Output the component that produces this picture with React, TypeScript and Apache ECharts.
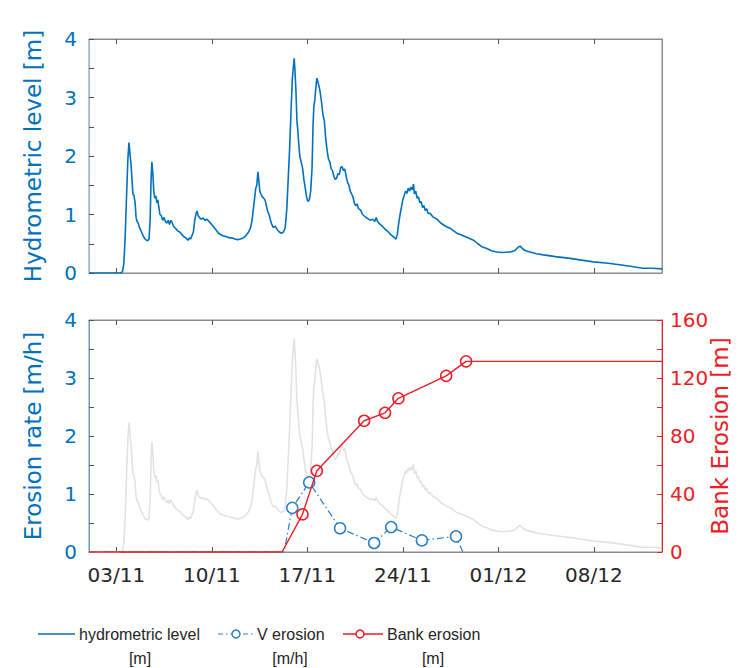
import React, { useEffect, useRef } from "react";
import * as echarts from "echarts";

// x values are days since 01/11 00:00
const xTickDays = [2, 9, 16, 23, 30, 37];
const xTickLabels = ["03/11", "10/11", "17/11", "24/11", "01/12", "08/12"];

const hydroLevel: [number, number][] = [
  [0, 0], [2.3, 0], [2.45, 0.02], [2.55, 0.15], [2.65, 0.6], [2.75, 1.3], [2.85, 1.95], [2.93, 2.23],
  [3.0, 2.05], [3.08, 1.85], [3.15, 1.6], [3.22, 1.35], [3.3, 1.32], [3.38, 1.2], [3.45, 0.95], [3.52, 0.88],
  [3.6, 0.86], [3.7, 0.78], [3.85, 0.7], [4.0, 0.62], [4.15, 0.57], [4.3, 0.55], [4.4, 0.58], [4.48, 0.9],
  [4.55, 1.6], [4.61, 1.9], [4.68, 1.7], [4.75, 1.4], [4.82, 1.28], [4.9, 1.32], [4.98, 1.2], [5.05, 1.25],
  [5.12, 1.12], [5.2, 1.0], [5.3, 0.98], [5.4, 0.9], [5.5, 0.95], [5.6, 0.88], [5.7, 0.85], [5.8, 0.9],
  [5.9, 0.83], [6.0, 0.9], [6.1, 0.86], [6.2, 0.8], [6.35, 0.76], [6.5, 0.72], [6.65, 0.7], [6.8, 0.66],
  [6.95, 0.62], [7.1, 0.6], [7.25, 0.56], [7.35, 0.6], [7.45, 0.58], [7.55, 0.64], [7.65, 0.7], [7.75, 0.9],
  [7.85, 1.02], [7.92, 1.06], [8.0, 0.98], [8.1, 0.95], [8.2, 0.92], [8.35, 0.94], [8.5, 0.9], [8.65, 0.92],
  [8.8, 0.88], [8.95, 0.84], [9.1, 0.8], [9.3, 0.74], [9.5, 0.68], [9.7, 0.65], [9.9, 0.63], [10.1, 0.62],
  [10.3, 0.6], [10.5, 0.6], [10.7, 0.58], [10.9, 0.57], [11.1, 0.58], [11.3, 0.6], [11.5, 0.64], [11.7, 0.7],
  [11.85, 0.78], [11.95, 0.9], [12.05, 1.1], [12.15, 1.3], [12.22, 1.45], [12.3, 1.5], [12.38, 1.73], [12.45, 1.58],
  [12.52, 1.4], [12.6, 1.35], [12.7, 1.3], [12.8, 1.28], [12.9, 1.25], [13.0, 1.15], [13.1, 1.05], [13.2, 1.0],
  [13.3, 0.9], [13.4, 0.83], [13.5, 0.78], [13.65, 0.8], [13.8, 0.74], [13.95, 0.7], [14.1, 0.68], [14.25, 0.7],
  [14.38, 0.77], [14.5, 1.1], [14.6, 1.6], [14.7, 2.1], [14.8, 2.7], [14.9, 3.3], [14.97, 3.5], [15.04, 3.67],
  [15.1, 3.45], [15.17, 3.1], [15.24, 2.6], [15.3, 2.45], [15.38, 2.2], [15.45, 2.0], [15.55, 1.9], [15.65, 1.8],
  [15.75, 1.6], [15.85, 1.45], [15.95, 1.3], [16.05, 1.22], [16.15, 1.25], [16.25, 1.4], [16.35, 1.8], [16.42, 2.5],
  [16.48, 2.85], [16.55, 2.95], [16.6, 3.1], [16.7, 3.33], [16.8, 3.25], [16.9, 3.15], [17.0, 3.0], [17.08, 2.85],
  [17.15, 2.7], [17.25, 2.6], [17.35, 2.3], [17.45, 2.1], [17.55, 1.95], [17.65, 1.9], [17.75, 1.78], [17.85, 1.75],
  [17.95, 1.65], [18.05, 1.6], [18.15, 1.62], [18.25, 1.7], [18.35, 1.68], [18.45, 1.8], [18.55, 1.82], [18.65, 1.75],
  [18.75, 1.78], [18.85, 1.65], [18.95, 1.55], [19.05, 1.5], [19.15, 1.4], [19.25, 1.35], [19.35, 1.3], [19.45, 1.2],
  [19.55, 1.15], [19.65, 1.18], [19.75, 1.1], [19.9, 1.08], [20.05, 1.0], [20.2, 0.97], [20.35, 0.94], [20.5, 0.92],
  [20.65, 0.9], [20.8, 0.92], [20.95, 0.88], [21.05, 0.95], [21.15, 0.88], [21.3, 0.84], [21.5, 0.8], [21.7, 0.75],
  [21.9, 0.71], [22.1, 0.66], [22.3, 0.62], [22.5, 0.58], [22.6, 0.66], [22.7, 0.85], [22.8, 1.0], [22.9, 1.12],
  [23.0, 1.25], [23.1, 1.32], [23.2, 1.4], [23.3, 1.36], [23.4, 1.45], [23.5, 1.4], [23.6, 1.47], [23.7, 1.42],
  [23.78, 1.52], [23.85, 1.35], [23.95, 1.4], [24.05, 1.28], [24.15, 1.3], [24.25, 1.2], [24.35, 1.22], [24.45, 1.12],
  [24.55, 1.15], [24.65, 1.07], [24.75, 1.1], [24.85, 1.02], [25.0, 1.02], [25.2, 0.96], [25.5, 0.92], [25.8, 0.85],
  [26.2, 0.79], [26.5, 0.76], [26.96, 0.68], [27.3, 0.65], [27.6, 0.62], [27.9, 0.59], [28.18, 0.56], [28.5, 0.5],
  [28.8, 0.45], [29.16, 0.42], [29.5, 0.38], [29.9, 0.36], [30.3, 0.35], [30.87, 0.36], [31.2, 0.38], [31.45, 0.44],
  [31.6, 0.46], [31.8, 0.41], [32.0, 0.38], [32.33, 0.36], [32.8, 0.33], [33.3, 0.31], [34.2, 0.28], [35.26, 0.25],
  [36.1, 0.22], [36.97, 0.19], [37.9, 0.17], [38.9, 0.14], [39.8, 0.11], [40.6, 0.08], [41.3, 0.08], [42, 0.07],
];

// V erosion [m/h]: line path and measured points
const vErosionLine: [number, number][] = [[0, 0], [14.3, 0], [14.9, 0.76], [16.14, 1.2], [18.4, 0.41], [20.9, 0.155], [22.15, 0.43], [24.4, 0.2], [26.9, 0.27], [27.4, 0]];
const vErosionMarked = [false, false, true, true, true, true, true, true, true, false];

// Bank erosion [m]
const bankLine: [number, number][] = [[0, 0], [14.15, 0], [15.65, 26], [16.7, 56], [20.17, 90.5], [21.7, 96], [22.68, 106], [26.18, 121.5], [27.64, 131.5], [42, 131.5]];
const bankMarked = [false, false, true, true, true, true, true, true, true, false];

const BLUE = "#0072BD";
const VBLUE = "#2a7fc4";
const RED = "#EE1C25";
const GRAY_AX = "#8c8c8c";
const TICK = "#555555";
const FONT = "DejaVu Sans";
const LFONT = "Liberation Sans";

export default function App() {
  const ref = useRef<HTMLDivElement>(null);
  useEffect(() => {
    if (!ref.current) return;
    const chart = echarts.init(ref.current, null, { renderer: "svg" });

    const xBase = (grid: number, pos: "top" | "bottom", labels: boolean) => ({
      type: "value",
      gridIndex: grid,
      position: pos,
      min: 0,
      max: 42,
      axisLine: { show: true, onZero: false, lineStyle: { color: GRAY_AX, width: 1 } },
      axisTick: { show: true, inside: true, length: 5, customValues: xTickDays, lineStyle: { color: TICK } },
      axisLabel: labels
        ? {
            show: true,
            customValues: xTickDays,
            formatter: (v: number) => {
              const i = xTickDays.findIndex((d) => Math.abs(d - v) < 1e-6);
              return i >= 0 ? xTickLabels[i] : "";
            },
            fontSize: 20,
            fontFamily: FONT,
            color: "#262626",
            margin: 13,
          }
        : { show: false },
      splitLine: { show: false },
    });

    const yLeft = (grid: number, name: string, lineColor: string) => ({
      type: "value",
      gridIndex: grid,
      position: "left",
      min: 0,
      max: 4,
      interval: 1,
      name,
      nameLocation: "middle",
      nameGap: 45,
      nameMoveOverlap: false,
      nameTextStyle: { fontSize: 23, fontFamily: FONT, color: BLUE },
      axisLine: { show: true, onZero: false, lineStyle: { color: lineColor, width: 1 } },
      axisTick: { show: true, inside: true, length: 5, lineStyle: { color: TICK } },
      minorTick: { show: true, splitNumber: 2, length: 5, lineStyle: { color: TICK } },
      axisLabel: { fontSize: 20, fontFamily: FONT, color: BLUE, margin: 12 },
      splitLine: { show: false },
    });

    const markedData = (pts: [number, number][], marks: boolean[]) =>
      pts.map((p, i) => ({ value: p, symbol: marks[i] ? "circle" : "none" }));

    const gridBox = { show: true, borderColor: GRAY_AX, borderWidth: 1, backgroundColor: "rgba(0,0,0,0)", outerBoundsMode: "none", containLabel: false };

    chart.setOption({
      animation: false,
      grid: [
        { left: 89, top: 39, width: 573, height: 234, ...gridBox },
        { left: 89, top: 320, width: 573, height: 232, ...gridBox },
      ],
      xAxis: [xBase(0, "bottom", false), xBase(0, "top", false), xBase(1, "bottom", true), xBase(1, "top", false)],
      yAxis: [
        yLeft(0, "Hydrometric level [m]", "#8fbde0"),
        {
          type: "value", gridIndex: 0, position: "right", min: 0, max: 4, interval: 1,
          axisLine: { show: true, onZero: false, lineStyle: { color: GRAY_AX } },
          axisTick: { show: false }, axisLabel: { show: false }, splitLine: { show: false },
        },
        yLeft(1, "Erosion rate [m/h]", "#5a9fd0"),
        {
          type: "value", gridIndex: 1, position: "right", min: 0, max: 160, interval: 40,
          name: "Bank Erosion [m]",
          nameLocation: "middle",
          nameGap: 46,
          nameMoveOverlap: false,
          nameTextStyle: { fontSize: 23, fontFamily: FONT, color: RED },
          axisLine: { show: true, onZero: false, lineStyle: { color: RED } },
          axisTick: { show: true, inside: true, length: 5, lineStyle: { color: RED } },
          minorTick: { show: true, splitNumber: 2, length: 5, lineStyle: { color: RED } },
          axisLabel: { fontSize: 20, fontFamily: FONT, color: RED, margin: 8 },
          splitLine: { show: false },
        },
      ],
      series: [
        {
          type: "line", name: "hydrometric level [m]", xAxisIndex: 0, yAxisIndex: 0,
          data: hydroLevel, showSymbol: false, symbol: "none",
          lineStyle: { color: BLUE, width: 1.6 },
        },
        {
          type: "line", name: "hydrometric level (background)", xAxisIndex: 2, yAxisIndex: 2,
          data: hydroLevel, showSymbol: false, symbol: "none",
          lineStyle: { color: "#e2e2e2", width: 1.6 }, z: 1,
        },
        {
          type: "line", name: "V erosion [m/h]", xAxisIndex: 2, yAxisIndex: 2,
          data: markedData(vErosionLine, vErosionMarked),
          symbolSize: 11,
          itemStyle: { color: "#ffffff", borderColor: VBLUE, borderWidth: 1.5 },
          lineStyle: { color: VBLUE, width: 1.2, type: [7, 3, 1.5, 3] },
          z: 3,
        },
        {
          type: "line", name: "Bank erosion [m]", xAxisIndex: 2, yAxisIndex: 3,
          data: markedData(bankLine, bankMarked),
          symbolSize: 11,
          itemStyle: { color: "rgba(255,255,255,0)", borderColor: RED, borderWidth: 1.5 },
          lineStyle: { color: RED, width: 1.4 },
          z: 4,
        },
      ],
      graphic: [
        { type: "line", shape: { x1: 38, y1: 634, x2: 75, y2: 634 }, style: { stroke: BLUE, lineWidth: 1.6 } },
        { type: "text", x: 79, y: 634, style: { text: "hydrometric level", fontSize: 16, fontFamily: LFONT, fill: "#262626", align: "left", verticalAlign: "middle" } },
        { type: "text", x: 140, y: 658, style: { text: "[m]", fontSize: 16, fontFamily: LFONT, fill: "#262626", align: "center", verticalAlign: "middle" } },
        { type: "line", shape: { x1: 218, y1: 634, x2: 253, y2: 634 }, style: { stroke: VBLUE, lineWidth: 1.2, lineDash: [5, 3, 1.5, 3] } },
        { type: "circle", shape: { cx: 236, cy: 634, r: 4 }, style: { stroke: VBLUE, fill: "#ffffff", lineWidth: 1.5 } },
        { type: "text", x: 257, y: 634, style: { text: "V erosion", fontSize: 16, fontFamily: LFONT, fill: "#262626", align: "left", verticalAlign: "middle" } },
        { type: "text", x: 290, y: 658, style: { text: "[m/h]", fontSize: 16, fontFamily: LFONT, fill: "#262626", align: "center", verticalAlign: "middle" } },
        { type: "line", shape: { x1: 343, y1: 634, x2: 383, y2: 634 }, style: { stroke: RED, lineWidth: 1.4 } },
        { type: "circle", shape: { cx: 360, cy: 634, r: 4 }, style: { stroke: RED, fill: "#ffffff", lineWidth: 1.5 } },
        { type: "text", x: 387, y: 634, style: { text: "Bank erosion", fontSize: 16, fontFamily: LFONT, fill: "#262626", align: "left", verticalAlign: "middle" } },
        { type: "text", x: 433, y: 658, style: { text: "[m]", fontSize: 16, fontFamily: LFONT, fill: "#262626", align: "center", verticalAlign: "middle" } },
      ],
    });
    return () => chart.dispose();
  }, []);

  return (
    <div
      ref={ref}
      style={{ position: "fixed", left: 0, top: 0, width: 739, height: 668, background: "#ffffff" }}
    />
  );
}
